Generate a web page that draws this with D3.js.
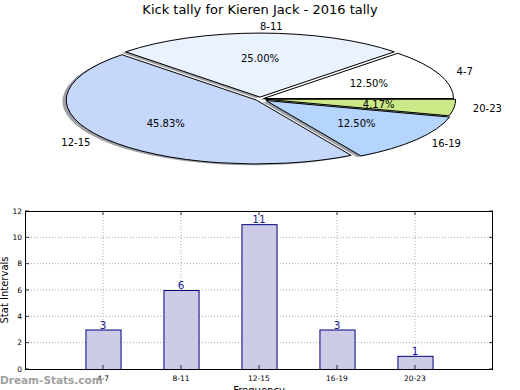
<!DOCTYPE html>
<html><head><meta charset="utf-8">
<script src="https://cdn.jsdelivr.net/npm/d3@7"></script>
<style>body{margin:0;background:#fff} svg{display:block;font-family:"DejaVu Sans",sans-serif}</style>
</head><body><svg id="c" width="520" height="390"></svg>
<script>
const categories = ["4-7","8-11","12-15","16-19","20-23"];
const counts = [3,6,11,3,1];
const yTicks = [0,2,4,6,8,10,12];
const pieColors = ["#ffffff","#eaf1ff","#c5d8fc","#b5d5ff","#cbe986"];
const explode = [0.02,0.03,0.025,0.04,0.03];

const svg = d3.select("#c");
svg.append("text").attr("x",260).attr("y",14).attr("text-anchor","middle")
  .attr("font-size",13).text("Kick tally for Kieren Jack - 2016 tally");

// ---- pie ----
const cx=260, cy=99, rx=190, ry=64, R=100;
const total = d3.sum(counts);
const pie = d3.pie().sort(null).startAngle(Math.PI/2).endAngle(Math.PI/2 - 2*Math.PI);
const arcs = pie(counts);
const arcGen = d3.arc().innerRadius(0).outerRadius(R);
const pieG = svg.append("g");
const info = arcs.map((a,i)=>{
  const m=(a.startAngle+a.endAngle)/2;
  const sx=Math.sin(m), sy=-Math.cos(m);
  return {a, i, sx, sy, ox: cx+sx*explode[i]*rx, oy: cy+sy*explode[i]*ry};
});
function shade(c){const k=d3.rgb(c);return d3.rgb(k.r*0.3,k.g*0.3,k.b*0.3).toString();}
// shadows
info.forEach(d=>{
  pieG.append("path").attr("d",arcGen(d.a))
    .attr("transform",`translate(${d.ox-0.02*rx},${d.oy+0.02*ry}) scale(${rx/R},${ry/R})`)
    .attr("fill",shade(pieColors[d.i])).attr("opacity",0.5);
});
// wedges
info.forEach(d=>{
  pieG.append("path").attr("d",arcGen(d.a))
    .attr("transform",`translate(${d.ox},${d.oy}) scale(${rx/R},${ry/R})`)
    .attr("fill",pieColors[d.i]).attr("stroke","#000").attr("stroke-width",1)
    .attr("vector-effect","non-scaling-stroke").attr("stroke-linejoin","round");
});
// labels
info.forEach(d=>{
  pieG.append("text").attr("x",d.ox+1.1*d.sx*rx).attr("y",d.oy+1.1*d.sy*ry).attr("dy","0.35em")
    .attr("font-size",10).attr("text-anchor", d.sx> -1e-9 ? "start":"end").text(categories[d.i]);
  pieG.append("text").attr("x",d.ox+0.6*d.sx*rx).attr("y",d.oy+0.6*d.sy*ry).attr("dy","0.35em")
    .attr("font-size",10).attr("text-anchor","middle")
    .text((counts[d.i]/total*100).toFixed(2)+"%");
});

// ---- bar chart ----
const L=25, Rt=493, T=211, B=369;
const x = d3.scaleLinear().domain([0,categories.length+1]).range([L,Rt]);
const y = d3.scaleLinear().domain([0,12]).range([B,T]);
const g = svg.append("g");
// grid
yTicks.slice(1,-1).forEach(t=>{
  g.append("line").attr("x1",L).attr("x2",Rt).attr("y1",y(t)).attr("y2",y(t))
   .attr("stroke","#aaa").attr("stroke-width",1).attr("stroke-dasharray","1,2");
});
categories.forEach((c,i)=>{
  g.append("line").attr("x1",x(i+1)).attr("x2",x(i+1)).attr("y1",T).attr("y2",B)
   .attr("stroke","#aaa").attr("stroke-width",1).attr("stroke-dasharray","1,2");
});
// bars
const bw = x(0.45)-x(0);
counts.forEach((v,i)=>{
  g.append("rect").attr("x",x(i+1)-bw/2+0.5).attr("y",y(v)+0.5).attr("width",bw).attr("height",B-y(v))
   .attr("fill","#cccce6").attr("stroke","#000080").attr("stroke-width",1);
  g.append("text").attr("x",x(i+1)).attr("y",y(v)-1).attr("text-anchor","middle")
   .attr("font-size",10.5).attr("fill","#1a1a8a").text(v);
});
// ticks
yTicks.forEach(t=>{
  g.append("line").attr("x1",L).attr("x2",L+4).attr("y1",y(t)).attr("y2",y(t)).attr("stroke","#333");
  g.append("line").attr("x1",Rt-4).attr("x2",Rt).attr("y1",y(t)).attr("y2",y(t)).attr("stroke","#333");
  g.append("text").attr("x",L-3).attr("y",y(t)).attr("dy","0.35em").attr("text-anchor","end")
   .attr("font-size",7.5).text(t);
});
categories.forEach((c,i)=>{
  g.append("line").attr("x1",x(i+1)).attr("x2",x(i+1)).attr("y1",B).attr("y2",B-4).attr("stroke","#333");
  g.append("line").attr("x1",x(i+1)).attr("x2",x(i+1)).attr("y1",T).attr("y2",T+4).attr("stroke","#333");
  g.append("text").attr("x",x(i+1)).attr("y",B+12).attr("text-anchor","middle")
   .attr("font-size",7.5).text(c);
});
// frame
g.append("rect").attr("x",L+0.5).attr("y",T+0.5).attr("width",Rt-L-1).attr("height",B-T)
 .attr("fill","none").attr("stroke","#000").attr("stroke-width",1);
// axis labels
svg.append("text").attr("transform",`translate(8,${(T+B)/2}) rotate(-90)`).attr("text-anchor","middle")
 .attr("font-size",10).text("Stat Intervals");
svg.append("text").attr("x",(L+Rt)/2).attr("y",394).attr("text-anchor","middle")
 .attr("font-size",10).text("Frequency");
svg.append("text").attr("x",0).attr("y",384).attr("font-size",10.5).attr("font-weight","bold")
 .attr("fill","#a0a0a0").text("Dream-Stats.com");
</script></body></html>
